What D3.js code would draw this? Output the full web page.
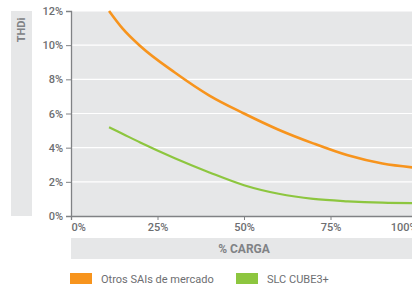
<!DOCTYPE html>
<html>
<head>
<meta charset="utf-8">
<script src="https://cdn.jsdelivr.net/npm/d3@7"></script>
<style>
  body { margin: 0; background: #fff; }
  svg { display: block; font-family: Roboto, "DejaVu Sans", sans-serif; }
</style>
</head>
<body>
<script>
// load (%) points
var loadOtros = [11, 15, 20, 30, 40, 50, 60, 70, 80, 90, 100];
var thdiOtros = [12.0, 10.95, 9.95, 8.4, 7.05, 6.0, 5.05, 4.25, 3.55, 3.07, 2.82];

var loadCube = [11, 15, 20, 30, 40, 50, 60, 70, 80, 90, 100];
var thdiCube = [5.2, 4.8, 4.3, 3.38, 2.55, 1.8, 1.3, 1.0, 0.86, 0.78, 0.75];

var xTicks = [0, 25, 50, 75, 100];
var yTicks = [0, 2, 4, 6, 8, 10, 12];
var seriesNames = ["Otros SAIs de mercado", "SLC CUBE3+"];
var seriesColors = ["#f7941d", "#8dc63f"];

var width = 412, height = 286;
var margin = { left: 71, top: 11, right: 0, bottom: 70 };
var plotW = 346, plotH = 205;
var fontFam = "Roboto, 'DejaVu Sans', sans-serif";

var svg = d3.select("body").append("svg")
    .attr("width", width)
    .attr("height", height);

var xScale = d3.scaleLinear().domain([0, 100]).range([0, plotW]);
var yScale = d3.scaleLinear().domain([0, 12]).range([plotH, 0]);

var g = svg.append("g")
    .attr("transform", "translate(" + margin.left + "," + margin.top + ")");

// plot background
g.append("rect")
    .attr("x", 0).attr("y", 0)
    .attr("width", plotW).attr("height", plotH)
    .attr("fill", "#e6e7e8");

// gridlines
g.selectAll("line.grid")
    .data(yTicks.slice(1))
    .enter().append("line")
    .attr("class", "grid")
    .attr("x1", 0).attr("x2", plotW)
    .attr("y1", function (d) { return yScale(d); })
    .attr("y2", function (d) { return yScale(d); })
    .attr("stroke", "#fff")
    .attr("stroke-width", 1.2);

// y axis title band
svg.append("rect")
    .attr("x", 11).attr("y", 11)
    .attr("width", 21).attr("height", 205)
    .attr("fill", "#e6e7e8");
svg.append("text")
    .attr("transform", "translate(25,30) rotate(-90)")
    .attr("text-anchor", "middle")
    .attr("font-size", 11)
    .attr("font-weight", "bold")
    .attr("fill", "#808285")
    .text("THDi");

// x axis title band
svg.append("rect")
    .attr("x", 71).attr("y", 238)
    .attr("width", 346).attr("height", 21)
    .attr("fill", "#e6e7e8");
svg.append("text")
    .attr("x", margin.left + xScale(50)).attr("y", 252.5)
    .attr("text-anchor", "middle")
    .attr("font-size", 12)
    .attr("font-weight", "bold")
    .attr("fill", "#808285")
    .text("% CARGA");

// axes
var yAxis = d3.axisLeft(yScale)
    .tickValues(yTicks)
    .tickFormat(function (d) { return d + "%"; })
    .tickSize(5)
    .tickPadding(3);
var xAxis = d3.axisBottom(xScale)
    .tickValues(xTicks)
    .tickFormat(function (d) { return d + "%"; })
    .tickSize(4)
    .tickPadding(3);

var yG = g.append("g").attr("class", "axis y").call(yAxis);
var xG = g.append("g").attr("class", "axis x")
    .attr("transform", "translate(0," + plotH + ")")
    .call(xAxis);

[yG, xG].forEach(function (a) {
    a.select(".domain").attr("stroke", "#808285").attr("stroke-width", 1.3);
    a.selectAll(".tick line").attr("stroke", "#808285");
    a.selectAll(".tick text")
        .attr("fill", "#6d6e71")
        .attr("font-size", 11)
        .attr("font-weight", 500)
        .attr("font-family", fontFam);
});
xG.selectAll(".tick text").filter(function (d) { return d === 0; })
    .attr("text-anchor", "start");
xG.selectAll(".tick text").filter(function (d) { return d === 100; })
    .attr("text-anchor", "end");

// lines
var line = d3.line()
    .x(function (d) { return xScale(d[0]); })
    .y(function (d) { return yScale(d[1]); })
    .curve(d3.curveMonotoneX);

var series = [
    d3.zip(loadOtros, thdiOtros),
    d3.zip(loadCube, thdiCube)
];

g.selectAll("path.serie")
    .data(series)
    .enter().append("path")
    .attr("class", "serie")
    .attr("d", line)
    .attr("fill", "none")
    .attr("stroke", function (d, i) { return seriesColors[i]; })
    .attr("stroke-width", function (d, i) { return i === 0 ? 2.6 : 2.2; });

// legend
var legendX = [70, 236];
var leg = svg.selectAll("g.legend")
    .data(seriesNames)
    .enter().append("g")
    .attr("class", "legend")
    .attr("transform", function (d, i) { return "translate(" + legendX[i] + ",273)"; });
leg.append("rect")
    .attr("width", 22).attr("height", 11)
    .attr("fill", function (d, i) { return seriesColors[i]; });
leg.append("text")
    .attr("x", 31).attr("y", 9.5)
    .attr("font-size", 11)
    .attr("fill", "#6d6e71")
    .text(function (d) { return d; });
</script>
</body>
</html>
